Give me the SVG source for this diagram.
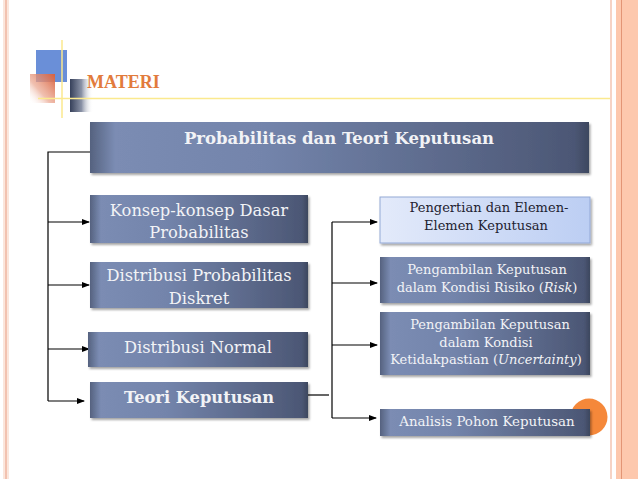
<svg xmlns="http://www.w3.org/2000/svg" width="638" height="479" viewBox="0 0 638 479">
<defs>
<style>
.dk{fill:url(#gDark);filter:url(#sh)}
.lt{fill:url(#gLight);stroke:#93a9d6;stroke-width:1;filter:url(#sh)}
.wt{font-family:"DejaVu Serif","Liberation Serif",serif;fill:#f2f3f6;text-anchor:middle}
.bk{font-family:"DejaVu Serif","Liberation Serif",serif;fill:#1e2230;text-anchor:middle}
.ln{fill:none;stroke:#000;stroke-width:1.2}
</style>
<linearGradient id="gDark" x1="0" y1="0" x2="1" y2="0">
<stop offset="0" stop-color="#55627f"/>
<stop offset="0.05" stop-color="#7b8cb3"/>
<stop offset="0.35" stop-color="#7384ab"/>
<stop offset="0.97" stop-color="#4c5775"/>
<stop offset="1" stop-color="#3d475f"/>
</linearGradient>
<linearGradient id="gLight" x1="0" y1="0" x2="1" y2="0">
<stop offset="0" stop-color="#e3eafa"/>
<stop offset="1" stop-color="#bccef3"/>
</linearGradient>
<linearGradient id="gRed" x1="1" y1="0" x2="0" y2="1">
<stop offset="0" stop-color="#d9603c"/>
<stop offset="0.6" stop-color="#eaa58e" stop-opacity="0.7"/>
<stop offset="1" stop-color="#ffffff" stop-opacity="0"/>
</linearGradient>
<linearGradient id="gNavy" x1="0" y1="0" x2="1" y2="0">
<stop offset="0" stop-color="#36405a"/>
<stop offset="0.5" stop-color="#8a92a6"/>
<stop offset="1" stop-color="#ffffff" stop-opacity="0"/>
</linearGradient>
<filter id="sh" x="-5%" y="-10%" width="115%" height="140%">
<feDropShadow dx="1.5" dy="2" stdDeviation="1.2" flood-color="#000" flood-opacity="0.35"/>
</filter>
<marker id="ar" markerWidth="8" markerHeight="6" refX="7" refY="3" orient="auto" markerUnits="userSpaceOnUse">
<path d="M0,0 L8,3 L0,6 Z" fill="#000"/>
</marker>
</defs>
<rect width="638" height="479" fill="#ffffff"/>
<!-- borders -->
<rect x="3" y="0" width="6" height="479" fill="#fbe6dc"/>
<rect x="5" y="0" width="2" height="479" fill="#f2c2b0"/>
<rect x="610" y="0" width="2" height="479" fill="#f6d3c5"/>
<rect x="616" y="0" width="22" height="479" fill="#fdc8ad"/>
<rect x="621" y="0" width="1" height="479" fill="#e39575"/>
<!-- decoration -->
<g id="decor">
<rect x="36" y="50" width="31" height="32" fill="#6a8fd8"/>
<rect x="30" y="74" width="25" height="29" fill="url(#gRed)"/>
<rect x="70" y="79" width="23" height="33" fill="url(#gNavy)"/>
<line x1="62" y1="40" x2="62" y2="118" stroke="#fbe98e" stroke-width="1.5"/>
<line x1="38" y1="98.5" x2="610" y2="98.5" stroke="#fbe98e" stroke-width="1.5"/>
<text x="87" y="88" font-family="'Liberation Serif',serif" font-weight="bold" font-size="18" fill="#e27b3c">MATERI</text>
</g>
<circle cx="589" cy="417" r="18.5" fill="#f5883a"/>
<!-- connectors -->
<g id="connectors">
<polyline class="ln" points="90,152 48,152 48,401"/>
<line class="ln" x1="48" y1="222" x2="89" y2="222" marker-end="url(#ar)"/>
<line class="ln" x1="48" y1="285" x2="89" y2="285" marker-end="url(#ar)"/>
<line class="ln" x1="48" y1="349" x2="89" y2="349" marker-end="url(#ar)"/>
<line class="ln" x1="48" y1="401" x2="84" y2="401" marker-end="url(#ar)"/>
<line class="ln" x1="308" y1="395" x2="329" y2="395"/>
<line class="ln" x1="332" y1="222" x2="332" y2="418"/>
<line class="ln" x1="332" y1="222" x2="377" y2="222" marker-end="url(#ar)"/>
<line class="ln" x1="332" y1="283" x2="377" y2="283" marker-end="url(#ar)"/>
<line class="ln" x1="332" y1="345" x2="377" y2="345" marker-end="url(#ar)"/>
<line class="ln" x1="332" y1="418" x2="376" y2="418" marker-end="url(#ar)"/>
</g>
<g id="title">
<rect class="dk" x="90" y="122" width="499" height="51"/>
<text class="wt" x="339" y="144" font-size="16.5" font-weight="bold">Probabilitas dan Teori Keputusan</text>
</g>
<g id="konsep">
<rect class="dk" x="90" y="195" width="218" height="48"/>
<text class="wt" x="199" y="216" font-size="16.3">Konsep-konsep Dasar</text>
<text class="wt" x="199" y="238" font-size="16.3">Probabilitas</text>
</g>
<g id="diskret">
<rect class="dk" x="90" y="262" width="218" height="46"/>
<text class="wt" x="199" y="281" font-size="16.3">Distribusi Probabilitas</text>
<text class="wt" x="199" y="304" font-size="16.3">Diskret</text>
</g>
<g id="normal">
<rect class="dk" x="88" y="332" width="220" height="35"/>
<text class="wt" x="198" y="353" font-size="16.3">Distribusi Normal</text>
</g>
<g id="teori">
<rect class="dk" x="90" y="382" width="218" height="36"/>
<text class="wt" x="199" y="403" font-size="16.3" font-weight="bold">Teori Keputusan</text>
</g>
<g id="pengertian">
<rect class="lt" x="380" y="197" width="210" height="46"/>
<text class="bk" x="489" y="212" font-size="13">Pengertian dan Elemen-</text>
<text class="bk" x="486" y="230" font-size="13">Elemen Keputusan</text>
</g>
<g id="risiko">
<rect class="dk" x="380" y="257" width="210" height="46"/>
<text class="wt" x="487" y="274" font-size="13">Pengambilan Keputusan</text>
<text class="wt" x="487" y="292" font-size="13">dalam Kondisi Risiko (<tspan font-style="italic">Risk</tspan>)</text>
</g>
<g id="ketidakpastian">
<rect class="dk" x="380" y="312" width="210" height="63"/>
<text class="wt" x="490" y="329" font-size="13">Pengambilan Keputusan</text>
<text class="wt" x="486" y="347" font-size="13">dalam Kondisi</text>
<text class="wt" x="486" y="364" font-size="13">Ketidakpastian (<tspan font-style="italic">Uncertainty</tspan>)</text>
</g>
<g id="pohon">
<rect class="dk" x="380" y="409" width="210" height="27"/>
<text class="wt" x="487" y="426" font-size="13.4">Analisis Pohon Keputusan</text>
</g>
</svg>
